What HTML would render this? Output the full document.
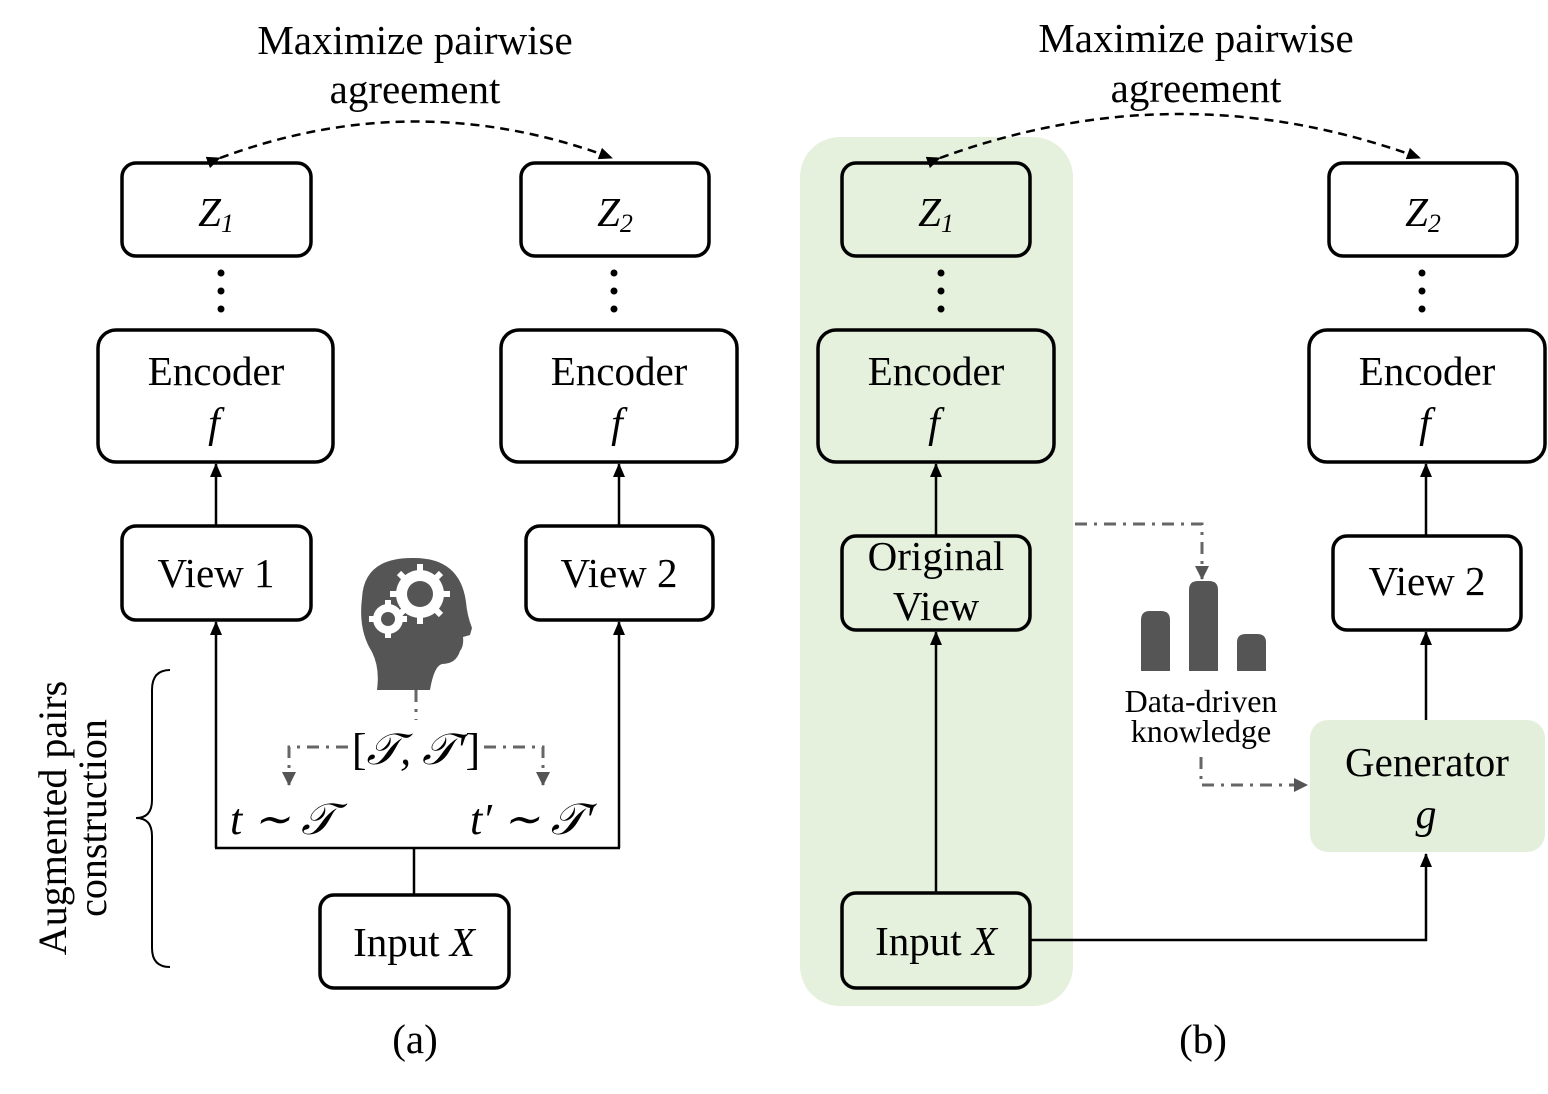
<!DOCTYPE html>
<html><head><style>body{margin:0;background:#fff}svg{display:block}</style></head>
<body>
<svg width="1548" height="1094" viewBox="0 0 1548 1094" xmlns="http://www.w3.org/2000/svg" font-family="Liberation Serif, serif">
<defs>
<marker id="ab" markerWidth="14" markerHeight="12" refX="13" refY="6" orient="auto" markerUnits="userSpaceOnUse"><path d="M0,0 L14,6 L0,12z" fill="#000"/></marker>
<marker id="ag" markerWidth="14" markerHeight="14" refX="13" refY="7" orient="auto" markerUnits="userSpaceOnUse"><path d="M0,0 L14,7 L0,14z" fill="#555"/></marker>
</defs>
<rect x="800" y="137" width="273" height="869" rx="40" fill="#e5f0dd"/>
<rect x="1310" y="720" width="235" height="132" rx="18" fill="#e3efdb"/>

<g fill="none" stroke="#000" stroke-width="3.5">
<rect x="122" y="163" width="189" height="93" rx="14"/>
<rect x="521" y="163" width="188" height="93" rx="14"/>
<rect x="98" y="330" width="235" height="132" rx="18"/>
<rect x="501" y="330" width="236" height="132" rx="18"/>
<rect x="122" y="526" width="189" height="94" rx="14"/>
<rect x="526" y="526" width="187" height="94" rx="14"/>
<rect x="320" y="895" width="189" height="93" rx="14"/>
<rect x="842" y="163" width="188" height="93" rx="14"/>
<rect x="818" y="330" width="236" height="132" rx="18"/>
<rect x="842" y="536" width="188" height="94" rx="14"/>
<rect x="842" y="893" width="188" height="95" rx="14"/>
<rect x="1329" y="163" width="188" height="93" rx="14"/>
<rect x="1309" y="330" width="236" height="132" rx="18"/>
<rect x="1333" y="536" width="188" height="94" rx="14"/>
</g>

<g stroke="#000" stroke-width="2.5" fill="none">
<line x1="216" y1="526" x2="216" y2="464" marker-end="url(#ab)"/>
<line x1="619" y1="526" x2="619" y2="464" marker-end="url(#ab)"/>
<polyline points="216,848 216,622" marker-end="url(#ab)"/>
<polyline points="619,848 619,622" marker-end="url(#ab)"/>
<line x1="215" y1="848" x2="620" y2="848"/>
<line x1="414" y1="848" x2="414" y2="895"/>
<line x1="936" y1="893" x2="936" y2="632" marker-end="url(#ab)"/>
<line x1="936" y1="536" x2="936" y2="464" marker-end="url(#ab)"/>
<line x1="1426" y1="720" x2="1426" y2="632" marker-end="url(#ab)"/>
<line x1="1426" y1="536" x2="1426" y2="464" marker-end="url(#ab)"/>
<polyline points="1030,940 1426,940 1426,854" marker-end="url(#ab)"/>
<path d="M220,158 Q416,85 612,158" stroke-dasharray="9,6" marker-start="url(#ab)" marker-end="url(#ab)"/>
<path d="M940,158 Q1180,70 1420,158" stroke-dasharray="9,6" marker-start="url(#ab)" marker-end="url(#ab)"/>
<path d="M170,670 Q152,670 152,690 L152,800 Q152,818 136,818 Q152,818 152,836 L152,948 Q152,967 170,967" stroke-width="2"/>
</g>

<g fill="#000">
<circle cx="221" cy="273" r="3.5"/><circle cx="221" cy="291" r="3.5"/><circle cx="221" cy="309" r="3.5"/>
<circle cx="614" cy="273" r="3.5"/><circle cx="614" cy="291" r="3.5"/><circle cx="614" cy="309" r="3.5"/>
<circle cx="941" cy="273" r="3.5"/><circle cx="941" cy="291" r="3.5"/><circle cx="941" cy="309" r="3.5"/>
<circle cx="1422" cy="273" r="3.5"/><circle cx="1422" cy="291" r="3.5"/><circle cx="1422" cy="309" r="3.5"/>
</g>

<g stroke="#666" stroke-width="3" fill="none" stroke-dasharray="12,7,3,7">
<line x1="416" y1="690" x2="416" y2="720"/>
<polyline points="348,747 289,747 289,785" marker-end="url(#ag)"/>
<polyline points="484,747 543,747 543,785" marker-end="url(#ag)"/>
<polyline points="1075,524 1202,524 1202,579" marker-end="url(#ag)"/>
<polyline points="1201,757 1201,785 1307,785" marker-end="url(#ag)"/>
</g>

<g fill="#555">
<path d="M1141,671 V620 Q1141,611 1150,611 H1161 Q1170,611 1170,620 V671z"/>
<path d="M1189,671 V590 Q1189,581 1198,581 H1209 Q1218,581 1218,590 V671z"/>
<path d="M1237,671 V642 Q1237,634 1246,634 H1257 Q1266,634 1266,642 V671z"/>
</g>

<g>
<path d="M362,598 Q364,558 412,558 Q460,557 466,602 Q467,615 472,628 L470,635 L463,637 Q464,646 460,651 Q456,664 442,664 Q434,666 430,690 L377,690 Q380,668 372,652 Q358,630 362,598z" fill="#555"/>
<circle cx="420" cy="594" r="24" fill="#fff"/>
<circle cx="388" cy="619" r="15" fill="#fff"/>
<g stroke="#fff" stroke-width="6">
<line x1="420" y1="564" x2="420" y2="624"/><line x1="390" y1="594" x2="450" y2="594"/>
<line x1="399" y1="573" x2="441" y2="615"/><line x1="441" y1="573" x2="399" y2="615"/>
<line x1="388" y1="600" x2="388" y2="638"/><line x1="369" y1="619" x2="407" y2="619"/>
</g>
<circle cx="420" cy="594" r="13" fill="#555"/>
<circle cx="388" cy="619" r="7" fill="#555"/>
</g>

<g font-size="41" text-anchor="middle" fill="#000">
<text x="415" y="54">Maximize pairwise</text>
<text x="415" y="103">agreement</text>
<text x="1196" y="52">Maximize pairwise</text>
<text x="1196" y="102">agreement</text>
<text x="216" y="385">Encoder</text>
<text x="619" y="385">Encoder</text>
<text x="936" y="385">Encoder</text>
<text x="1427" y="385">Encoder</text>
<g font-style="italic" font-size="42">
<text x="214" y="437">f</text><text x="617" y="437">f</text><text x="934" y="437">f</text><text x="1425" y="437">f</text>
<text x="1426" y="828">g</text>
</g>
<text x="216" y="587">View 1</text>
<text x="619" y="587">View 2</text>
<text x="1427" y="595">View 2</text>
<text x="936" y="570">Original</text>
<text x="936" y="620">View</text>
<text x="1427" y="776">Generator</text>
<text x="414" y="956">Input <tspan font-style="italic">X</tspan></text>
<text x="936" y="955">Input <tspan font-style="italic">X</tspan></text>
<text x="415" y="1053">(a)</text>
<text x="1203" y="1053">(b)</text>
<g font-style="italic">
<text x="216" y="226">Z<tspan font-size="26" dy="6">1</tspan></text>
<text x="615" y="226">Z<tspan font-size="26" dy="6">2</tspan></text>
<text x="936" y="226">Z<tspan font-size="26" dy="6">1</tspan></text>
<text x="1423" y="226">Z<tspan font-size="26" dy="6">2</tspan></text>
</g>
</g>
<g font-size="32" text-anchor="middle">
<text x="1201" y="712">Data-driven</text>
<text x="1201" y="742">knowledge</text>
</g>
<g font-size="44" font-style="italic" fill="#000">
<text x="416" y="764" text-anchor="middle"><tspan font-style="normal">[</tspan>𝒯, 𝒯′<tspan font-style="normal">]</tspan></text>
<text x="230" y="834">t ∼ 𝒯</text>
<text x="470" y="834">t′ ∼ 𝒯′</text>
</g>
<text transform="translate(66,818) rotate(-90)" font-size="40" text-anchor="middle"><tspan x="0" y="0">Augmented pairs</tspan><tspan x="0" y="40">construction</tspan></text>
</svg>
</body></html>
